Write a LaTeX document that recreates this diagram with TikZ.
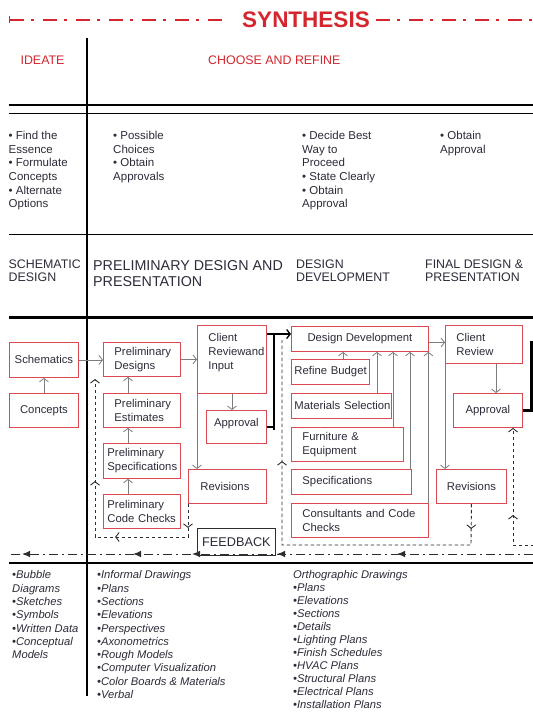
\documentclass[tikz,border=0pt]{standalone}
\usepackage{fontspec}
\setmainfont{Liberation Sans}
\usetikzlibrary{arrows.meta,decorations.markings}
\hyphenpenalty=10000
\exhyphenpenalty=10000
\definecolor{sred}{RGB}{212,38,46}
\definecolor{bred}{RGB}{222,72,80}
\definecolor{txt}{RGB}{44,44,58}
\definecolor{agray}{RGB}{125,125,125}
\definecolor{dgray}{RGB}{45,45,45}
\newcommand\myfs[2]{\fontsize{#1}{#2}\selectfont}
\tikzset{
  myb/.tip={Straight Barb[length=3.5pt,width=9pt]},
  box/.style={draw=bred, line width=0.9pt, fill=white, text=txt, font=\myfs{11.3}{14}, inner sep=0pt, anchor=north west},
  arr/.style={draw=agray, line width=0.8pt, -myb},
  dsh/.style={draw=dgray, line width=0.9pt, dash pattern=on 3.5pt off 2.5pt},
  ddot/.style={draw=dgray, line width=1pt, dash pattern=on 9pt off 4pt on 2pt off 4pt},
  redline/.style={draw=sred, line width=1.8pt, dash pattern=on 14pt off 7pt on 3pt off 9pt},
  bl/.style={anchor=north west, align=left, inner sep=0pt, text=txt, font=\myfs{11.5}{13.6}},
  hd/.style={anchor=north west, align=left, inner sep=0pt, text=txt, font=\myfs{12.4}{13.6}},
  it/.style={anchor=north west, align=left, inner sep=0pt, text=txt, font=\myfs{11.2}{13.3}\itshape},
  ftip/.tip={Latex[length=8pt,width=6.5pt]},
}
\begin{document}
\begin{tikzpicture}[x=1pt,y=-1pt]
\fill[white] (0,0) rectangle (533,713);
\useasboundingbox (0,0) rectangle (533,713);

% ---- title
\node[font=\myfs{22.5}{26}\bfseries, text=sred, inner sep=0pt] (syn) at (306,19.7) {SYNTHESIS};
\coordinate (tl1) at (8.5,19.7); \coordinate (tl2) at (223,19.7);
\coordinate (tr1) at (376,19.7); \coordinate (tr2) at (533,19.7);
\draw[redline, {Bar[width=7pt]}-] (tl1) -- (tl2);
\draw[redline] (tr1) -- (tr2);

% ---- rules
\draw[line width=2pt] (8.5,105.3) -- (533,105.3);
\draw[line width=1.1pt] (8.5,113.8) -- (533,113.8);
\draw[line width=1.2pt] (8.5,234.4) -- (533,234.4);
\draw[line width=2.4pt] (8.5,317.5) -- (533,317.5);
\draw[line width=2.4pt] (8.5,563) -- (533,563);
\draw[line width=2.8pt] (87,38) -- (87,696);

% ---- headings
\node[hd, anchor=west, text=sred] (ideate) at (20.4,60.5) {IDEATE};
\node[hd, anchor=west, text=sred] (choose) at (208,60.5) {CHOOSE AND REFINE};

\node[bl] (b1) at (8.5,131.1) {• Find the\\Essence\\• Formulate\\Concepts\\• Alternate\\Options};
\node[bl] (b2) at (113,131.1) {• Possible\\Choices\\• Obtain\\Approvals};
\node[bl] (b3) at (302,131.1) {• Decide Best\\Way to\\Proceed\\• State Clearly\\• Obtain\\Approval};
\node[bl] (b4) at (440,131.1) {• Obtain\\Approval};

\node[hd] (h1) at (8.5,259.5) {SCHEMATIC\\DESIGN};
\node[hd, font=\myfs{14.3}{16}] (h2) at (93,259.9) {PRELIMINARY DESIGN AND\\PRESENTATION};
\node[hd] (h3) at (296,259.5) {DESIGN\\DEVELOPMENT};
\node[hd] (h4) at (425,259.5) {FINAL DESIGN \&\\PRESENTATION};

% ---- boxes
\node[box, minimum width=69pt, minimum height=35pt] (sch) at (9,342) {Schematics};
\node[box, minimum width=69pt, minimum height=34pt] (con) at (9,393) {Concepts};
\node[box, minimum width=77pt, minimum height=34pt, text width=55pt, inner xsep=11pt, align=left] (pd) at (103,342) {Preliminary\\Designs};
\node[box, minimum width=77pt, minimum height=34pt, text width=55pt, inner xsep=11pt, align=left] (pe) at (103,393) {Preliminary\\Estimates};
\node[box, minimum width=77pt, minimum height=35pt, text width=69pt, inner xsep=4pt, align=left] (ps) at (103,443) {Preliminary\\Specifications};
\node[box, minimum width=77pt, minimum height=34pt, text width=69pt, inner xsep=4pt, align=left] (pc) at (103,494) {Preliminary\\Code~Checks};
\node[box, minimum width=69pt, minimum height=68pt, text width=47pt, inner xsep=11pt, align=left, text height=8.2pt, text depth=43.8pt] (cri) at (197,325) {Client\\Reviewand\\Input};
\node[box, minimum width=60pt, minimum height=33pt, text height=8.2pt, text depth=10pt] (ap1) at (206,410) {Approval};
\node[box, minimum width=78pt, minimum height=34pt, text width=54pt, inner xsep=12pt, align=left] (rv1) at (188,469) {Revisions};
\node[box, draw=dgray, minimum width=78pt, minimum height=27pt, font=\myfs{12.7}{14}] (fb) at (197,528) {FEEDBACK};

\node[box, minimum width=137pt, minimum height=25pt] (dd) at (291,326) {Design~Development};
\node[box, minimum width=78pt, minimum height=25pt, text width=72pt, inner xsep=3pt, align=left] (rb) at (291,359) {Refine~Budget};
\node[box, minimum width=100pt, minimum height=25pt, text width=94pt, inner xsep=3pt, align=left] (ms) at (291,393) {Materials~Selection};
\node[box, minimum width=112pt, minimum height=34pt, text width=90pt, inner xsep=11pt, align=left] (fe) at (291,427) {Furniture~\&\\Equipment};
\node[box, minimum width=120pt, minimum height=25pt, text width=98pt, inner xsep=11pt, align=left] (sp) at (291,469) {Specifications};
\node[box, minimum width=137pt, minimum height=34pt, text width=115pt, inner xsep=11pt, align=left] (cc) at (291,503) {Consultants~and~Code\\Checks};

\node[box, minimum width=77pt, minimum height=38pt, text width=55pt, inner xsep=11pt, align=left] (cr2) at (445,325) {Client\\Review};
\node[box, minimum width=69pt, minimum height=34pt] (ap2) at (453,393) {Approval};
\node[box, minimum width=70pt, minimum height=34pt] (rv2) at (436,469) {Revisions};

% ---- connectors
\draw[arr] (con.north) -- (sch.south);
\draw[arr] (sch.east) -- (sch.east -| pd.west);
\draw[arr] ([xshift=25pt]pe.north west) -- ([xshift=25pt]pd.south west);
\draw[arr] ([xshift=25pt]ps.north west) -- ([xshift=25pt]pe.south west);
\draw[arr] ([xshift=25pt]pc.north west) -- ([xshift=25pt]ps.south west);
\draw[arr] (pd.east) -- (pd.east -| cri.west);
\draw[arr] (cri.south) -- (cri.south |- ap1.north);
\draw[arr] (cri.south west) -- (cri.south west |- rv1.north);
\draw[draw=black, line width=1.3pt, -myb] ([yshift=-9pt]cri.north east) -- ([yshift=-9pt]cri.north east -| dd.west);
\coordinate (brT) at (274,334); \coordinate (brB) at (274,430);
\draw[line width=2.2pt] (brT) -- (brB);
\draw[line width=1.6pt] (ap1.east) -- (ap1.east -| brT);

\draw[arr] ([xshift=52pt]rb.north west) -- ([xshift=52pt]dd.south west);
\draw[arr] ([xshift=86pt]ms.north west) -- ([xshift=86pt]dd.south west);
\draw[arr] ([xshift=102pt]fe.north west) -- ([xshift=102pt]dd.south west);
\draw[arr] ([xshift=119pt]sp.north west) -- ([xshift=119pt]dd.south west);
\draw[arr] ([xshift=-0.5pt]cc.north east) -- ([xshift=-0.5pt]dd.south east);

\draw[arr] ([yshift=-3.5pt]dd.east) -- ([yshift=-3.5pt]dd.east -| cr2.west);
\draw[arr] ([xshift=51pt]cr2.south west) -- ([xshift=51pt]cr2.south west |- ap2.north);
\draw[arr] (cr2.south west) -- (cr2.south west |- rv2.north);
\coordinate (rbk1) at (531.5,342); \coordinate (rbk2) at (534,342);
\draw[line width=2.2pt] (ap2.east) -| (rbk1) -- (rbk2);

% ---- dashed feedback loops
\coordinate (d1a) at (188,537); \coordinate (d1b) at (95,537); \coordinate (d1c) at (95,379);
\draw[dsh, -myb, postaction={decorate}, decoration={markings,
   mark=at position 24pt with {\arrow{myb}},
   mark=at position 106pt with {\arrow{myb}},
   mark=at position 182pt with {\arrow{myb}}}]
  (rv1.south west) -- (d1a) -- (d1b) -- (d1c);
\coordinate (d2a) at (471,545); \coordinate (d2b) at (282,545); \coordinate (d2c) at (282,340);
\draw[dsh, postaction={decorate}, decoration={markings,
   mark=at position 25pt with {\arrow{myb}},
   mark=at position 314pt with {\arrow{myb}}}]
  (rv2.south) -- (d2a) -- (d2b) -- (d2c);
\coordinate (d3a) at (534,545); \coordinate (d3b) at (513,545);
\draw[dsh, -myb, postaction={decorate}, decoration={markings,
   mark=at position 51pt with {\arrow{myb}}}]
  (d3a) -- (d3b) -- (d3b |- ap2.south);

% ---- feedback dash-dot line
\coordinate (fbR) at (533,554); \coordinate (fbL) at (8,554);
\draw[ddot, postaction={decorate}, decoration={markings,
   mark=at position 136pt with {\arrow{ftip}},
   mark=at position 256pt with {\arrow{ftip}},
   mark=at position 341pt with {\arrow{ftip}},
   mark=at position 400pt with {\arrow{ftip}},
   mark=at position 511pt with {\arrow{ftip}}}]
  (fbR) -- (fbL);

% ---- bottom lists
\node[it] (l1) at (12,570.5) {•Bubble\\Diagrams\\•Sketches\\•Symbols\\•Written Data\\•Conceptual\\Models};
\node[it] (l2) at (97,570.5) {•Informal Drawings\\•Plans\\•Sections\\•Elevations\\•Perspectives\\•Axonometrics\\•Rough Models\\•Computer Visualization\\•Color Boards \& Materials\\•Verbal};
\node[it, font=\myfs{11.2}{13.05}\itshape] (l3) at (293,570) {Orthographic Drawings\\•Plans\\•Elevations\\•Sections\\•Details\\•Lighting Plans\\•Finish Schedules\\•HVAC Plans\\•Structural Plans\\•Electrical Plans\\•Installation Plans};
\end{tikzpicture}
\end{document}
